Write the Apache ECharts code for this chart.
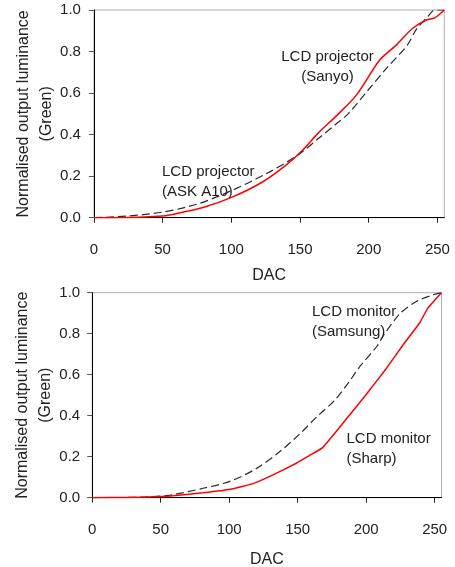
<!DOCTYPE html>
<html>
<head>
<meta charset="utf-8">
<script src="https://cdn.jsdelivr.net/npm/echarts@6/dist/echarts.min.js"></script>
<style>html,body{margin:0;padding:0;background:#fff;}#c{width:455px;height:567px;}</style>
</head>
<body>
<div id="c"></div>
<script>
// DAC vs normalised luminance
var askA10 = [[0,0],[25,0.008],[50,0.027],[75,0.065],[100,0.13],[125,0.21],[148,0.3],[165,0.39],[176,0.45],[185,0.5],[199,0.61],[213,0.72],[228,0.83],[235,0.91],[243,0.968],[248,1.0],[255,1.0]];
var sanyo = [[0,0],[25,0.001],[50,0.008],[55,0.013],[80,0.05],[101,0.1],[123,0.173],[140,0.254],[152,0.326],[163,0.406],[177,0.494],[191,0.59],[208,0.759],[220,0.831],[232,0.912],[242,0.952],[248,0.962],[255,1.0]];
var samsung = [[0,0],[25,0.001],[40,0.004],[57,0.013],[81,0.046],[101,0.081],[120,0.143],[137,0.225],[152,0.314],[164,0.395],[177,0.475],[187,0.56],[196,0.645],[208,0.74],[213,0.795],[225,0.9],[237,0.958],[249,0.99],[255,1.0]];
var sharp = [[0,0],[25,0.001],[40,0.003],[57,0.008],[81,0.024],[101,0.041],[118,0.07],[132,0.111],[149,0.168],[159,0.208],[168,0.243],[183,0.363],[199,0.495],[215,0.633],[227,0.746],[239,0.852],[245,0.925],[255,1.0]];
var xTicks = [0,50,100,150,200,250];
var yTicks = [0,0.2,0.4,0.6,0.8,1.0];
var xName = 'DAC';
var yName = 'Normalised output luminance\n(Green)';
var notes = [
  {text:'LCD projector\n(Sanyo)', x:327.5, y:47, align:'center'},
  {text:'LCD projector\n(ASK A10)', x:162, y:162, align:'left'},
  {text:'LCD monitor\n(Samsung)', x:312, y:302, align:'left'},
  {text:'LCD monitor\n(Sharp)', x:346.5, y:429, align:'left'}
];

var FONT = '"Liberation Sans", Arial, sans-serif';
var chart = echarts.init(document.getElementById('c'), null, {renderer:'canvas'});

function xAxis(gi, gap){
  return {
    type:'value', gridIndex:gi, min:0, max:255,
    name:xName, nameLocation:'middle', nameGap:gap, nameMoveOverlap:false,
    nameTextStyle:{fontFamily:FONT, fontSize:16, color:'#222'},
    axisLine:{show:true, lineStyle:{color:'#000', width:1}},
    axisTick:{show:true, length:5, inside:false, customValues:xTicks, lineStyle:{color:'#222'}},
    axisLabel:{customValues:xTicks, margin:25, fontFamily:FONT, fontSize:15, color:'#222'},
    splitLine:{show:false}
  };
}
function yAxis(gi, gap, margin){
  return {
    type:'value', gridIndex:gi, min:0, max:1, interval:0.2,
    name:yName, nameLocation:'middle', nameGap:gap, nameRotate:90, nameMoveOverlap:false,
    nameTextStyle:{fontFamily:FONT, fontSize:16, color:'#222', lineHeight:23},
    axisLine:{show:true, lineStyle:{color:'#000', width:1}},
    axisTick:{show:true, length:5, inside:false, customValues:yTicks, lineStyle:{color:'#555'}},
    axisLabel:{customValues:yTicks, margin:margin, fontFamily:FONT, fontSize:15, color:'#222', formatter:function(v){return v.toFixed(1);}},
    splitLine:{show:false}
  };
}
function line(data, gi, color, type, w, smooth){
  return {type:'line', xAxisIndex:gi, yAxisIndex:gi, data:data, showSymbol:false, symbol:'none',
    smooth:smooth, lineStyle:{color:color, width:w, type:type}, silent:true, animation:false};
}
var g = [];
notes.forEach(function(n){
  g.push({type:'text', x:n.x, y:n.y, style:{text:n.text, fontFamily:FONT, fontSize:15, fill:'#222', lineHeight:20, align:n.align, verticalAlign:'top'}});
});
chart.setOption({
  animation:false,
  grid:[
    {left:93.9, right:10.7, top:10, height:207.7, show:true, borderColor:'#b0b0b0', borderWidth:1, outerBoundsMode:'none'},
    {left:92.2, right:13.5, top:292.7, height:205, show:true, borderColor:'#b0b0b0', borderWidth:1, outerBoundsMode:'none'}
  ],
  xAxis:[xAxis(0,50), xAxis(1,54)],
  yAxis:[yAxis(0,36,13), yAxis(1,35,12)],
  series:[
    line(askA10,0,'#2a2a2a',[8,4],1.2,0.3),
    line(sanyo,0,'#ff0000','solid',1.5,0.3),
    line(samsung,1,'#2a2a2a',[8,4],1.2,0.3),
    line(sharp,1,'#ff0000','solid',1.5,0.1)
  ],
  graphic:g
});
</script>
</body>
</html>
